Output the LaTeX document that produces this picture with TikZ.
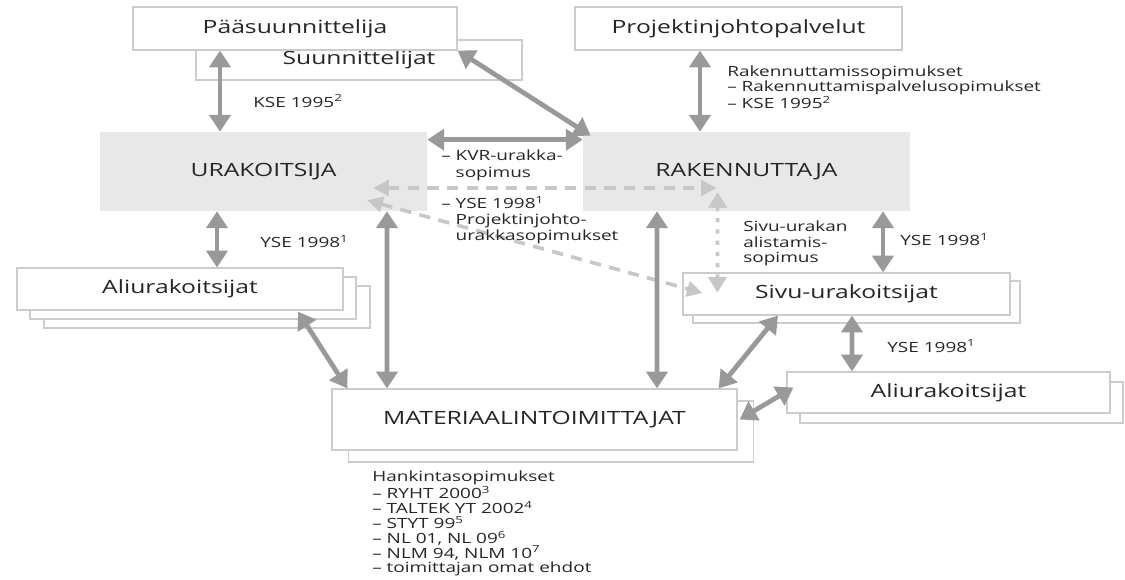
\documentclass[tikz,border=0pt]{standalone}
\usepackage{fontspec}
\setmainfont{Open Sans}[FakeStretch=1.35]
\usetikzlibrary{arrows.meta,calc}

\begin{document}
\begin{tikzpicture}[
    x=0.025cm, y=-0.025cm,
    box/.style={draw=black!20, fill=white, line width=0.8pt, inner sep=0pt,
                font=\fontsize{13}{15}\selectfont, text=black!85},
    party/.style={fill=black!9, inner sep=0pt, minimum width=8.175cm, minimum height=1.975cm,
                font=\fontsize{13}{15}\selectfont, text=black!85},
    arr/.style={{Triangle[length=12pt,width=15pt]}-{Triangle[length=12pt,width=15pt]},
                line width=3.4pt, draw=black!40},
    dsh/.style={{Triangle[length=11pt,width=11pt]}-{Triangle[length=11pt,width=11pt]},
                line width=2.6pt, draw=black!22, dash pattern=on 8pt off 6pt},
    dot/.style={{Triangle[length=11pt,width=13pt]}-{Triangle[length=11pt,width=13pt]},
                line width=2.6pt, draw=black!22, dash pattern=on 3pt off 5pt},
    lbl/.style={font=\fontsize{10}{10.5}\selectfont, align=left, inner sep=0pt, text=black!85}
]
\useasboundingbox (0,0) rectangle (1125,579);

\node[box, minimum width=8.15cm, minimum height=1cm] (suun) at (359,60) {Suunnittelijat};
\node[box, minimum width=8.1cm, minimum height=1.075cm] (paa) at (295,28.5) {Pääsuunnittelija};
\node[box, minimum width=8.175cm, minimum height=1.075cm] (proj) at (738.5,28.5) {Projektinjohtopalvelut};

\node[party] (urak) at (263.5,171.5) {URAKOITSIJA};
\node[party] (rak) at (746.5,171.5) {RAKENNUTTAJA};

\node[box, minimum width=8.15cm, minimum height=1.05cm] (ali1c) at (207,307) {};
\node[box, minimum width=8.15cm, minimum height=1.05cm] (ali1b) at (193,298) {};
\node[box, minimum width=8.15cm, minimum height=1.05cm] (ali1) at (180,289) {Aliurakoitsijat};

\node[box, minimum width=8.175cm, minimum height=1.05cm] (sivub) at (856.5,302) {};
\node[box, minimum width=8.175cm, minimum height=1.05cm] (sivu) at (846.5,294) {Sivu-urakoitsijat};

\node[box, minimum width=8.075cm, minimum height=1.025cm] (ali2b) at (961.5,402.5) {};
\node[box, minimum width=8.075cm, minimum height=1.025cm] (ali2) at (948.5,392.5) {Aliurakoitsijat};

\node[box, minimum width=10.125cm, minimum height=1.525cm] (matb) at (551,431.5) {};
\node[box, minimum width=10.125cm, minimum height=1.525cm] (mat) at (534.5,419.5) {MATERIAALINTOIMITTAJAT};

\draw[dsh] ($(urak.east)+(-54,16.5)$) -- ($(rak.west)+(134,16.5)$);
\draw[dsh] ($(urak.south east)+(-60,-11)$) -- ($(sivu.west)+(20,-1)$);
\draw[dot] ($(rak.south west)+(135,-19)$) -- ($(sivu.north west)+(35,20)$);

\draw[arr] ($(paa.south)+(-75,0)$) -- ($(urak.north)+(-43.5,0)$);
\draw[arr] (paa.south east) -- ($(rak.north west)+(8,4)$);
\draw[arr] ($(proj.south)+(-38.5,0)$) -- ($(rak.north)+(-46.5,0)$);
\draw[arr] ($(urak.north east)+(0,8)$) -- ($(rak.north west)+(0,8)$);
\draw[arr] ($(urak.south)+(-46.5,0)$) -- ($(ali1.north)+(37,0)$);
\draw[arr] ($(urak.south)+(123.5,0)$) -- ($(mat.north)+(-147.5,0)$);
\draw[arr] ($(ali1.south)+(118,1)$) -- ($(mat.north west)+(16,0)$);
\draw[arr] ($(rak.south)+(-89.5,0)$) -- ($(mat.north)+(122.5,0)$);
\draw[arr] ($(sivu.south)+(-68.5,0)$) -- ($(mat.north east)+(-19,0)$);
\draw[arr] ($(mat.east)+(2,0)$) -- ($(ali2.west)+(7,-5)$);
\draw[arr] ($(rak.south)+(136.5,0)$) -- ($(sivu.north)+(36.5,0)$);
\draw[arr] ($(sivu.south)+(5.5,0)$) -- ($(ali2.north)+(-96.5,0)$);

\node[lbl, anchor=west] (kse) at (253,101) {KSE 1995\textsuperscript{2}};
\node[lbl, anchor=north west] (rsop) at (727,66)
    {Rakennuttamissopimukset\\– Rakennuttamispalvelusopimukset\\– KSE 1995\textsuperscript{2}};
\node[lbl, anchor=north west, font=\fontsize{10}{11.5}\selectfont] (kvr) at (441,150)
    {– KVR-urakka-\\\hphantom{– }sopimus};
\node[lbl, anchor=north west, font=\fontsize{10}{11.5}\selectfont] (pjo) at (441,196)
    {– YSE 1998\textsuperscript{1}\\\hphantom{– }Projektinjohto-\\\hphantom{– }urakkasopimukset};
\node[lbl, anchor=west] (yse1) at (260,242) {YSE 1998\textsuperscript{1}};
\node[lbl, anchor=north west, font=\fontsize{10}{10.8}\selectfont] (alis) at (743,221)
    {Sivu-urakan\\alistamis-\\sopimus};
\node[lbl, anchor=west] (yse2) at (900,240) {YSE 1998\textsuperscript{1}};
\node[lbl, anchor=west] (yse3) at (887,346) {YSE 1998\textsuperscript{1}};
\node[lbl, anchor=north west] (hank) at (372,471)
    {Hankintasopimukset\\– RYHT 2000\textsuperscript{3}\\– TALTEK YT 2002\textsuperscript{4}\\– STYT 99\textsuperscript{5}\\– NL 01, NL 09\textsuperscript{6}\\– NLM 94, NLM 10\textsuperscript{7}\\– toimittajan omat ehdot};

\end{tikzpicture}
\end{document}
